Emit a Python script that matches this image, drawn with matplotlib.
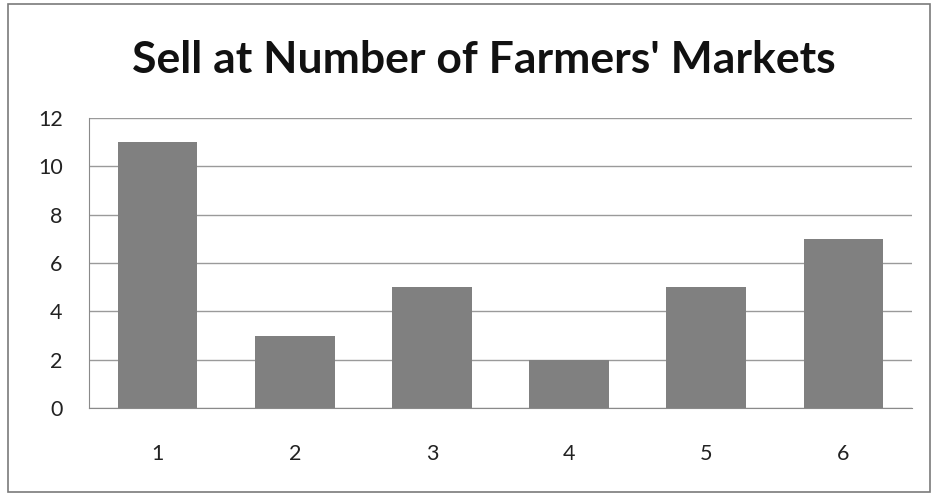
import matplotlib
matplotlib.use("Agg")
import matplotlib.pyplot as plt
from matplotlib.patches import Rectangle

categories = ["1", "2", "3", "4", "5", "6"]
values = [11, 3, 5, 2, 5, 7]
yticks = [0, 2, 4, 6, 8, 10, 12]
title = "Sell at Number of Farmers' Markets"

plt.rcParams['font.family'] = ['Lato', 'DejaVu Sans']

fig = plt.figure(figsize=(9.32, 4.95), dpi=100)
fig.patch.set_facecolor("white")
fig.add_artist(Rectangle((8/932, 3/495), 922/932, 488/495, transform=fig.transFigure,
                         fill=False, edgecolor="#7a7a7a", linewidth=1.2))

ax = fig.add_axes([89/932, (495-408)/495, (912-89)/932, (408-118)/495])
x = list(range(len(categories)))
ax.bar(x, values, width=0.58, color="#808080", zorder=3)
ax.set_xlim(-0.5, len(categories) - 0.5)
ax.set_ylim(0, 12)
ax.set_yticks(yticks)
ax.set_yticklabels([str(t) for t in yticks])
ax.set_xticks(x)
ax.set_xticklabels(categories)
ax.grid(axis="y", color="#9a9a9a", linewidth=1.0, zorder=0)
for s in ["top", "right"]:
    ax.spines[s].set_visible(False)
ax.spines["left"].set_color("#8a8a8a")
ax.spines["bottom"].set_color("#8a8a8a")
ax.tick_params(axis="both", length=0, labelsize=15.5, colors="#222222")
ax.tick_params(axis="y", pad=19)
ax.tick_params(axis="x", pad=26)

fig.text(484/932, 1 - 60/495, title, ha="center", va="center", fontsize=32,
         fontweight="bold", color="#111111")

fig.savefig("out.png", dpi=100)
